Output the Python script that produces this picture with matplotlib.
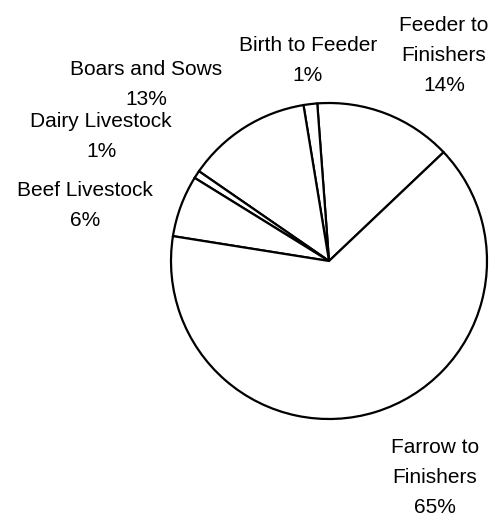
import matplotlib
matplotlib.use("Agg")
import matplotlib.pyplot as plt

plt.rcParams['font.family'] = ['Liberation Sans', 'DejaVu Sans']

categories = ["Feeder to\nFinishers", "Birth to Feeder", "Boars and Sows",
              "Dairy Livestock", "Beef Livestock", "Farrow to\nFinishers"]
shares = [14.1, 1.4, 12.8, 0.8, 6.3, 64.6]

# label centres (pie radius = 1)
label_pos = [(0.728, 1.30), (-0.133, 1.27), (-1.158, 1.115),
             (-1.443, 0.79), (-1.544, 0.352), (0.671, -1.372)]

fig = plt.figure(figsize=(4.91, 5.17), dpi=100)
ax = fig.add_axes([0, 0, 1, 1])

ax.pie(shares, startangle=43.5, counterclock=True, radius=1,
       colors=['white'] * len(shares),
       wedgeprops=dict(edgecolor='black', linewidth=1.6))

for name, val, (x, y) in zip(categories, shares, label_pos):
    ax.text(x, y, f"{name}\n{val:.0f}%", ha='center', va='center',
            fontsize=15, linespacing=1.72, color='black')

r_px = 158
ax.set_xlim(-329 / r_px, (491 - 329) / r_px)
ax.set_ylim(-(517 - 261) / r_px, 261 / r_px)
ax.set_aspect('auto')
ax.axis('off')

fig.savefig("out.png", dpi=100)
